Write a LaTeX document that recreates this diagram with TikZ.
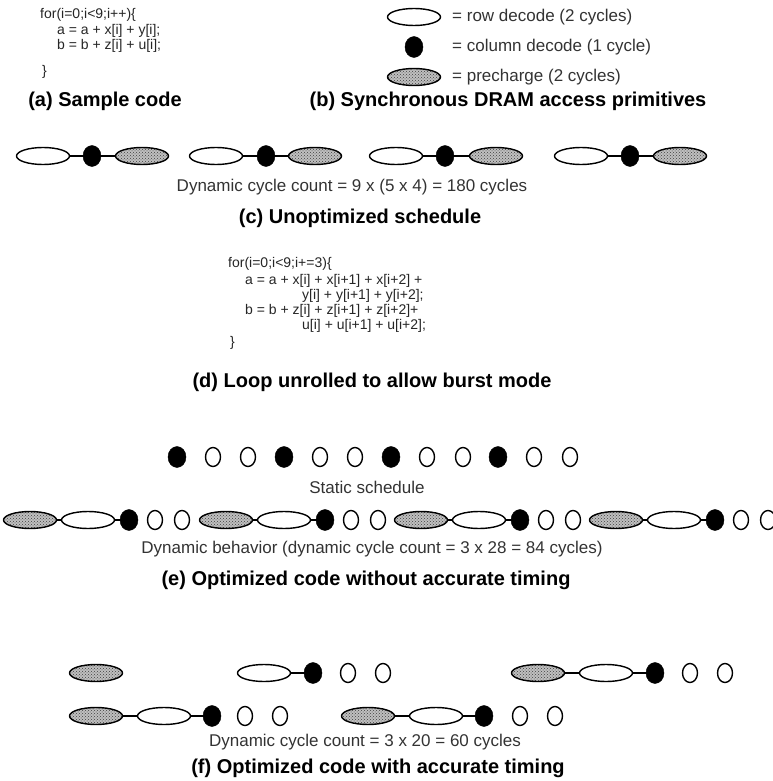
\documentclass[tikz,border=0pt]{standalone}
\usepackage{fontspec}
\setmainfont{Liberation Sans}
\usetikzlibrary{shapes.geometric,patterns}

\newlength{\du}
\setlength{\du}{1pt}

\tikzset{
  rowdec/.style={ellipse,draw=dialinecolor,line width=1.4\du,fill=white,minimum width=53\du,minimum height=17\du,inner sep=0pt},
  prechg/.style={rowdec,preaction={fill=gray!50},pattern=crosshatch dots,pattern color=black!75},
  coldec/.style={ellipse,draw=dialinecolor,fill=dialinecolor,minimum width=18\du,minimum height=21\du,inner sep=0pt},
  idle/.style={ellipse,draw=dialinecolor,line width=1.4\du,fill=white,minimum width=15\du,minimum height=19\du,inner sep=0pt},
  link/.style={draw=dialinecolor,line width=1.4\du},
  codeline/.style={anchor=west,inner sep=0pt,text=black!85,font=\fontsize{14}{16}\selectfont},
  note/.style={inner sep=0pt,text=black!80,font=\fontsize{17}{20}\selectfont},
  caption/.style={inner sep=0pt,font=\fontsize{20}{24}\selectfont\bfseries}
}

\begin{document}
\begin{tikzpicture}
\pgftransformxscale{1.000000}
\pgftransformyscale{-1.000000}
\definecolor{dialinecolor}{rgb}{0.000000, 0.000000, 0.000000}
\useasboundingbox[fill=white] (0\du,0\du) rectangle (772\du,781\du);
% (a) sample code
\node[codeline] (acode1) at (40\du,15\du){for(i=0;i<9;i++)\{};
\node[codeline] (acode2) at (57\du,31\du){a = a + x[i] + y[i];};
\node[codeline] (acode3) at (57\du,46\du){b = b + z[i] + u[i];};
\node[codeline] (acode4) at (42\du,72\du){\}};
\node[caption] (acap) at (105\du,101\du){(a) Sample code};
% (b) primitives
\node[rowdec] (keyrow) at (414\du,17\du){};
\node[coldec] (keycol) at (414\du,47\du){};
\node[prechg] (keypre) at (414\du,77\du){};
\node[note,anchor=west] (keyrowtxt) at (452\du,17\du){= row decode (2 cycles)};
\node[note,anchor=west] (keycoltxt) at (452\du,47\du){= column decode (1 cycle)};
\node[note,anchor=west] (keypretxt) at (452\du,77\du){= precharge (2 cycles)};
\node[caption] (bcap) at (508\du,101\du){(b) Synchronous DRAM access primitives};
% (c) unoptimized schedule
\node[rowdec] (crow1) at (43\du,156\du){};
\node[coldec] (ccol1) at (92\du,156\du){};
\node[prechg] (cpre1) at (142\du,156\du){};
\node[rowdec] (crow2) at (216\du,156\du){};
\node[coldec] (ccol2) at (266\du,156\du){};
\node[prechg] (cpre2) at (315\du,156\du){};
\node[rowdec] (crow3) at (396\du,156\du){};
\node[coldec] (ccol3) at (445\du,156\du){};
\node[prechg] (cpre3) at (496\du,156\du){};
\node[rowdec] (crow4) at (581\du,156\du){};
\node[coldec] (ccol4) at (630\du,156\du){};
\node[prechg] (cpre4) at (680\du,156\du){};
\draw[link] (crow1) -- (ccol1) -- (cpre1);
\draw[link] (crow2) -- (ccol2) -- (cpre2);
\draw[link] (crow3) -- (ccol3) -- (cpre3);
\draw[link] (crow4) -- (ccol4) -- (cpre4);
\node[note] (ctxt) at (352\du,187\du){Dynamic cycle count = 9 x (5 x 4) = 180 cycles};
\node[caption] (ccap) at (360\du,218\du){(c) Unoptimized schedule};
% (d) unrolled loop
\node[codeline] (dcode1) at (228\du,264\du){for(i=0;i<9;i+=3)\{};
\node[codeline] (dcode2) at (245\du,281\du){a = a + x[i] + x[i+1] + x[i+2] +};
\node[codeline] (dcode3) at (302\du,296\du){y[i] + y[i+1] + y[i+2];};
\node[codeline] (dcode4) at (245\du,311\du){b = b + z[i] + z[i+1] + z[i+2]+};
\node[codeline] (dcode5) at (302\du,326\du){u[i] + u[i+1] + u[i+2];};
\node[codeline] (dcode6) at (230\du,343\du){\}};
\node[caption] (dcap) at (372\du,382\du){(d) Loop unrolled to allow burst mode};
% (e) static schedule
\node[coldec] (es1) at (177\du,457\du){};
\node[idle] (es2) at (213\du,457\du){};
\node[idle] (es3) at (248\du,457\du){};
\node[coldec] (es4) at (284\du,457\du){};
\node[idle] (es5) at (320\du,457\du){};
\node[idle] (es6) at (355\du,457\du){};
\node[coldec] (es7) at (391\du,457\du){};
\node[idle] (es8) at (427\du,457\du){};
\node[idle] (es9) at (463\du,457\du){};
\node[coldec] (es10) at (498\du,457\du){};
\node[idle] (es11) at (534\du,457\du){};
\node[idle] (es12) at (570\du,457\du){};
\node[note] (estxt) at (367\du,487\du){Static schedule};
% (e) dynamic behavior
\node[prechg] (epre1) at (30\du,520\du){};
\node[rowdec] (erow1) at (88\du,520\du){};
\node[coldec] (ecol1) at (129\du,520\du){};
\node[idle] (eidl1a) at (155\du,520\du){};
\node[idle] (eidl1b) at (182\du,520\du){};
\node[prechg] (epre2) at (226\du,520\du){};
\node[rowdec] (erow2) at (284\du,520\du){};
\node[coldec] (ecol2) at (325\du,520\du){};
\node[idle] (eidl2a) at (351\du,520\du){};
\node[idle] (eidl2b) at (378\du,520\du){};
\node[prechg] (epre3) at (421\du,520\du){};
\node[rowdec] (erow3) at (479\du,520\du){};
\node[coldec] (ecol3) at (520\du,520\du){};
\node[idle] (eidl3a) at (546\du,520\du){};
\node[idle] (eidl3b) at (573\du,520\du){};
\node[prechg] (epre4) at (616\du,520\du){};
\node[rowdec] (erow4) at (674\du,520\du){};
\node[coldec] (ecol4) at (715\du,520\du){};
\node[idle] (eidl4a) at (741\du,520\du){};
\node[idle] (eidl4b) at (768\du,520\du){};
\draw[link] (epre1) -- (erow1) -- (ecol1);
\draw[link] (epre2) -- (erow2) -- (ecol2);
\draw[link] (epre3) -- (erow3) -- (ecol3);
\draw[link] (epre4) -- (erow4) -- (ecol4);
\node[note] (etxt) at (372\du,549\du){Dynamic behavior (dynamic cycle count = 3 x 28 = 84 cycles)};
\node[caption] (ecap) at (366\du,580\du){(e) Optimized code without accurate timing};
% (f) accurate timing, first row
\node[prechg] (fpre1) at (96\du,673\du){};
\node[rowdec] (frow1) at (264\du,673\du){};
\node[coldec] (fcol1) at (313\du,673\du){};
\node[idle] (fidl1a) at (348\du,673\du){};
\node[idle] (fidl1b) at (383\du,673\du){};
\node[prechg] (fpre2) at (538\du,673\du){};
\node[rowdec] (frow2) at (606\du,673\du){};
\node[coldec] (fcol2) at (655\du,673\du){};
\node[idle] (fidl2a) at (690\du,673\du){};
\node[idle] (fidl2b) at (725\du,673\du){};
\draw[link] (frow1) -- (fcol1);
\draw[link] (fpre2) -- (frow2) -- (fcol2);
% (f) accurate timing, second row
\node[prechg] (fpre3) at (96\du,716\du){};
\node[rowdec] (frow3) at (164\du,716\du){};
\node[coldec] (fcol3) at (212\du,716\du){};
\node[idle] (fidl3a) at (245\du,716\du){};
\node[idle] (fidl3b) at (280\du,716\du){};
\node[prechg] (fpre4) at (368\du,716\du){};
\node[rowdec] (frow4) at (436\du,716\du){};
\node[coldec] (fcol4) at (484\du,716\du){};
\node[idle] (fidl4a) at (520\du,716\du){};
\node[idle] (fidl4b) at (555\du,716\du){};
\draw[link] (fpre3) -- (frow3) -- (fcol3);
\draw[link] (fpre4) -- (frow4) -- (fcol4);
\node[note] (ftxt) at (365\du,742\du){Dynamic cycle count = 3 x 20 = 60 cycles};
\node[caption] (fcap) at (378\du,768\du){(f) Optimized code with accurate timing};
\end{tikzpicture}
\end{document}
